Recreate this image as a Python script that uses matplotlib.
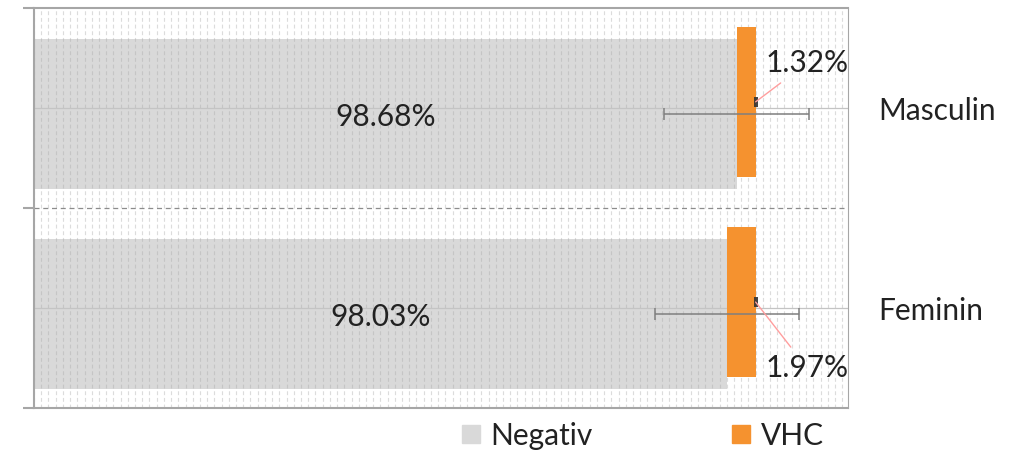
import numpy as np
import matplotlib.pyplot as plt
from matplotlib.patches import Patch
from matplotlib.ticker import MultipleLocator

# data (bottom to top)
categories = ['Feminin', 'Masculin']
negativ = [98.03, 98.68]
vhc = [1.97, 1.32]
negativ_err = [5.0, 5.0]
vhc_err = [0.07, 0.07]
negativ_labels = ['98.03%', '98.68%']
vhc_labels = ['1.97%', '1.32%']

plt.rcParams['font.family'] = ['Lato', 'DejaVu Sans']

GRAY = '#d9d9d9'
ORANGE = '#f5922f'
TXT = '#222222'
AXC = '#a6a6a6'

fig = plt.figure(figsize=(10.2, 4.53), dpi=100)
ax = fig.add_axes([34/1020, 1-408.3/453, (848-34)/1020, 400.3/453])

y = np.arange(len(categories))
bar_h = 0.75
neg_y = y - 0.03
vhc_y = y + 0.031

ax.set_xlim(50, 106.4)
ax.set_ylim(-0.5, 1.5)
xmin = ax.get_xlim()[0]

# gray bars
ax.barh(neg_y, negativ, height=bar_h, color=GRAY, zorder=1)

# grid lines (drawn over gray bars)
ax.xaxis.set_major_locator(MultipleLocator(0.5))
ax.grid(axis='x', color='#a8a8a8', alpha=0.4, ls=(0, (3.5, 2.5)), lw=0.8)
for yy in y:
    ax.axhline(yy, color='#c4c4c4', lw=0.9, zorder=1.6)
ax.axhline(0.5, color='#8c8c8c', lw=0.9, ls=(0, (4, 3)), zorder=1.6)

# orange bars stacked after gray
ax.barh(vhc_y, vhc, left=negativ, height=bar_h, color=ORANGE, zorder=3)

# error bars
ax.errorbar(negativ, neg_y, xerr=negativ_err, fmt='none', ecolor='#7f7f7f',
            elinewidth=1.1, capsize=4.3, capthick=1.1, zorder=4)
ends = np.add(negativ, vhc)
ax.errorbar(ends, vhc_y, xerr=vhc_err, fmt='none', ecolor='#333333',
            elinewidth=1.2, capsize=3.5, capthick=1.3, zorder=4)

# labels
for v, yy, lab in zip(negativ, neg_y, negativ_labels):
    ax.text((xmin + v) / 2, yy - 0.015, lab, ha='center', va='center',
            fontsize=21.5, color=TXT, zorder=5)

vhc_label_pos = [(103.58, -0.30), (103.58, 1.226)]
for e, yy, lab, pos in zip(ends, vhc_y, vhc_labels, vhc_label_pos):
    ax.annotate(lab, xy=(e, yy), xytext=pos, ha='center', va='center',
                fontsize=21.5, color=TXT, zorder=5,
                arrowprops=dict(arrowstyle='-', color='#ff9e9e', lw=1.0,
                                shrinkA=4, shrinkB=0))

# axes styling
ax.set_yticks(y, categories)
ax.set_yticks([-0.5, 0.5, 1.5], minor=True)
ax.tick_params(axis='y', which='major', left=False, right=False,
               labelleft=False, labelright=True, pad=18.5,
               labelsize=21.5, labelcolor=TXT)
ax.tick_params(axis='y', which='minor', left=True, direction='out',
               length=8, width=1.5, color=AXC)
ax.tick_params(axis='x', bottom=False, labelbottom=False)
for s in ['left', 'top', 'bottom']:
    ax.spines[s].set_color(AXC)
    ax.spines[s].set_linewidth(1.5)
ax.spines['right'].set_color(AXC)
ax.spines['right'].set_linewidth(0.8)

handles = [Patch(color=GRAY, label='Negativ'), Patch(color=ORANGE, label='VHC')]
fig.legend(handles=handles, ncol=2, loc='center', bbox_to_anchor=(0.6304, 0.0375),
           frameon=False, fontsize=21.5, handlelength=0.6, handleheight=0.55,
           handletextpad=0.35, columnspacing=4.66, labelcolor=TXT,
           borderpad=0, borderaxespad=0)

fig.savefig('out.png', dpi=100)
